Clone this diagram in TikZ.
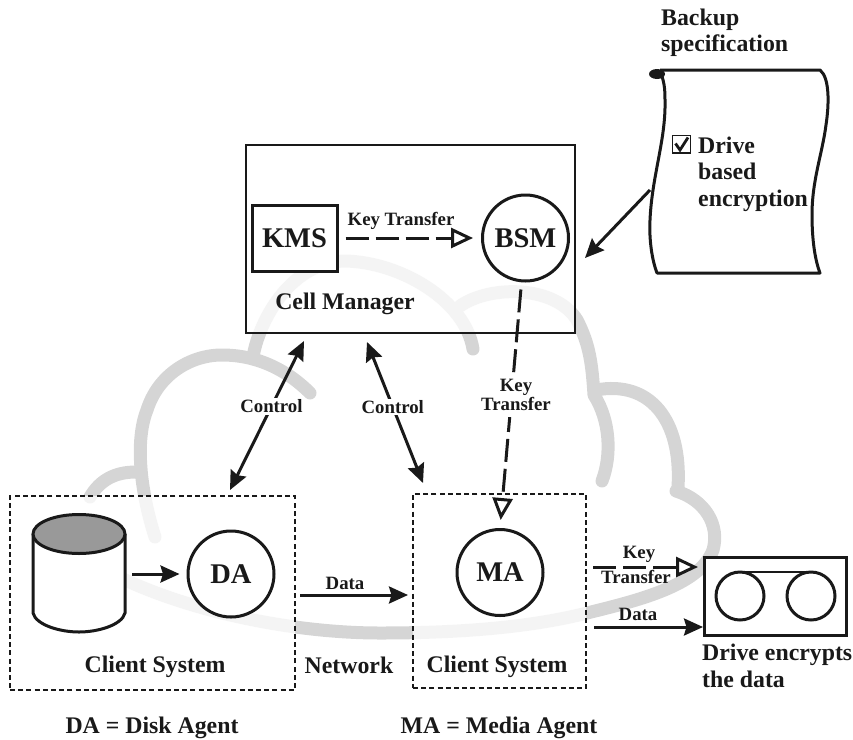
\documentclass[tikz,border=0pt]{standalone}
\usepackage{fontspec}
\setmainfont{Liberation Serif}
\usetikzlibrary{arrows.meta}
\definecolor{ink}{gray}{0.1}
\definecolor{cloudgray}{gray}{0.835}
\tikzset{
  x=1pt,y=-1pt,
  every node/.style={text=ink,font=\bfseries},
  lab/.style={font=\fontsize{18.8}{20}\selectfont\bfseries,align=center},
  big/.style={font=\fontsize{23.8}{26}\selectfont\bfseries},
  huge/.style={font=\fontsize{28.5}{30}\selectfont\bfseries},
  cloudline/.style={draw=cloudgray,line width=13,line cap=round,line join=round},
  panel/.style={draw=ink,line width=2.8,fill=white,fill opacity=.76,text opacity=1,inner sep=0},
  dashbox/.style={panel,line width=2.8,dash pattern=on 5 off 3.2},
  agent/.style={circle,draw=ink,line width=3,fill=white,minimum size=86,inner sep=0},
  solidar/.style={draw=ink,line width=3,-{Stealth[length=19,width=17,inset=2.5]}},
  bothar/.style={draw=ink,line width=3,{Stealth[length=19,width=17,inset=2.5]}-{Stealth[length=19,width=17,inset=2.5]}},
  keyar/.style={draw=ink,line width=3,dash pattern=on 23 off 7,-{Triangle[open,length=22,width=20,fill=white,line width=3]}},
}
\begin{document}
\begin{tikzpicture}
\useasboundingbox (0,0) rectangle (853,739);
% network cloud
\draw[cloudline] (90,497) .. controls (100,480) and (115,472) .. (136,472);
\draw[cloudline] (155,537) .. controls (140,490) and (135,440) .. (147,410)
   .. controls (158,375) and (190,355) .. (222,355)
   .. controls (255,355) and (285,368) .. (310,393);
\draw[cloudline] (253,357) .. controls (258,325) and (288,262) .. (345,261)
   .. controls (400,262) and (465,300) .. (473,349);
\draw[cloudline] (460,306) .. controls (490,285) and (555,285) .. (577,320)
   .. controls (590,345) and (592,365) .. (594,395)
   .. controls (610,420) and (612,455) .. (602,481);
\draw[cloudline] (596,390) .. controls (650,380) and (682,420) .. (678,487);
\draw[cloudline] (676,491) .. controls (705,500) and (720,525) .. (713,550)
   .. controls (700,585) and (640,600) .. (587,613)
   .. controls (520,630) and (440,633) .. (380,633)
   .. controls (290,633) and (180,610) .. (105,570);
% scroll
\draw[draw=ink,line width=3,fill=white,line join=round]
  (660,70) -- (820,70)
  .. controls (830,78) and (829,105) .. (826,125)
  .. controls (822,155) and (812,180) .. (812,215)
  .. controls (812,240) and (815,260) .. (820,273)
  -- (657,273)
  .. controls (652,260) and (649,240) .. (650,220)
  .. controls (652,175) and (666,140) .. (665,100)
  .. controls (665,88) and (664,80) .. (660,72);
\fill[ink] (657,74) ellipse [x radius=8,y radius=5];
\node[big,anchor=base west,inner sep=0] (bk1) at (661,25) {Backup};
\node[big,anchor=base west,inner sep=0] (bk2) at (661,51) {specification};
\draw[ink,line width=1.8] (672.5,135.5) rectangle (690.5,153);
\draw[ink,line width=2.8] (675.5,143.5) -- (680,150) -- (688,137.5);
\node[big,anchor=base west,inner sep=0] (sp1) at (698,153) {Drive};
\node[big,anchor=base west,inner sep=0] (sp2) at (698,179) {based};
\node[big,anchor=base west,inner sep=0] (sp3) at (698,206) {encryption};
\coordinate (scrollpt) at (650,190);
\coordinate (bsmpt) at (585,258);
% cell manager
\node[panel,minimum width=329,minimum height=188] (cell) at (410.5,239) {};
\node[draw=ink,line width=3,fill=white,huge,minimum width=85,minimum height=66,inner sep=0] (kms) at (294.5,238) {KMS};
\node[agent,huge] (bsm) at (525.5,238) {BSM};
\node[big,inner sep=0] (cm) at (345,304) {Cell Manager};
% client systems
\node[dashbox,minimum width=285,minimum height=194] (c1) at (152.5,593) {};
\node[dashbox,minimum width=173,minimum height=194] (c2) at (499.5,591) {};
\fill[white] (33,534) rectangle (125,613) (79,613) ellipse [x radius=46,y radius=19];
\draw[ink,line width=3] (33,534) -- (33,613) .. controls (36,625) and (60,632) .. (79,632)
   .. controls (98,632) and (122,625) .. (125,613) -- (125,534);
\draw[ink,line width=3,fill=gray!80!white] (79,534) ellipse [x radius=46,y radius=19.5];
\node[minimum width=92,minimum height=98,inner sep=0] (disk) at (79,574) {};
\node[agent,huge] (da) at (231,574) {DA};
\node[agent,huge] (ma) at (500,572.5) {MA};
\node[big,anchor=base,inner sep=0] (cs1) at (155,672.5) {Client System};
\node[big,anchor=base,inner sep=0] (cs2) at (497,672.5) {Client System};
\node[big,anchor=base,inner sep=0] (net) at (349,673) {Network};
\node[big,anchor=base,inner sep=0] (dal) at (152,733) {DA = Disk Agent};
\node[big,anchor=base,inner sep=0] (mal) at (499,733) {MA = Media Agent};
% drive
\node[draw=ink,line width=3,fill=white,minimum width=142,minimum height=78,inner sep=0] (drive) at (775,596) {};
\node[circle,draw=ink,line width=3,minimum size=48,inner sep=0] (w1) at (740,596) {};
\node[circle,draw=ink,line width=3,minimum size=48,inner sep=0] (w2) at (811,596) {};
\draw[ink,line width=2.6] ([yshift=-1.5pt]w1.north) -- ([yshift=-1.5pt]w2.north);
\node[big,anchor=base west,inner sep=0] (dr1) at (702,660) {Drive encrypts};
\node[big,anchor=base west,inner sep=0] (dr2) at (702,687) {the data};
% connectors
\draw[solidar] (disk) ++(53,0) -- (da.west) [shorten >=7];
\draw[solidar] (scrollpt) -- (bsmpt);
\coordinate (ctl1a) at (304,341); \coordinate (ctl1b) at (230,490);
\coordinate (ctl2a) at (367,342); \coordinate (ctl2b) at (423,483);
\draw[bothar] (ctl1a) -- (ctl1b) node[pos=.44,lab,fill=white,inner sep=1.5] (ctlabel1) {Control};
\draw[bothar] (ctl2a) -- (ctl2b) node[pos=.46,lab,fill=white,inner sep=1.5] (ctlabel2) {Control};
\draw[keyar,shorten <=6,shorten >=8] (kms) ++(45,0) -- (bsm.west);
\node[lab,inner sep=0] (kt1) at (401,221) {Key Transfer};
\draw[keyar,shorten <=7,shorten >=8] (bsm.south) ++(-4,0) -- (ma.north);
\node[lab,fill=white,inner sep=0,text width=70,minimum height=44,align=center] (kt2) at (516,395) {Key\\[-1pt]Transfer};
\coordinate (k3a) at (593,567); \coordinate (k3b) at (698,567);
\draw[keyar] (k3a) -- (k3b);
\node[lab,anchor=base,inner sep=0] (kt3a) at (639,558) {Key};
\node[lab,anchor=base,inner sep=0] (kt3b) at (636,583) {Transfer};
\coordinate (d1a) at (300,595); \coordinate (d1b) at (408,595);
\draw[solidar] (d1a) -- (d1b);
\node[lab,anchor=base,inner sep=0] (dl1) at (345,589) {Data};
\coordinate (d2a) at (594,627); \coordinate (d2b) at (703,627);
\draw[solidar] (d2a) -- (d2b);
\node[lab,anchor=base,inner sep=0] (dl2) at (638,620) {Data};
\end{tikzpicture}
\end{document}
